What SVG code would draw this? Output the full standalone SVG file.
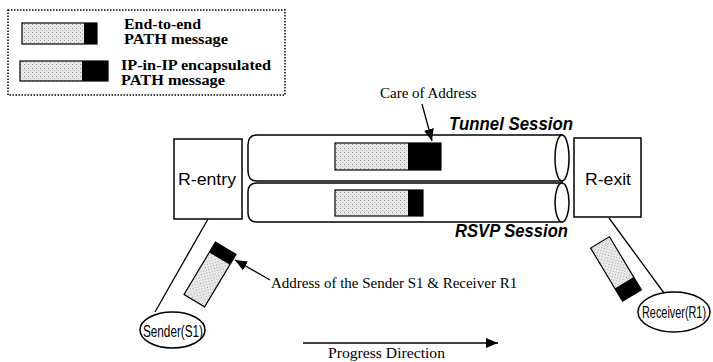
<svg xmlns="http://www.w3.org/2000/svg" width="713" height="362" viewBox="0 0 713 362">
<style>
.ln{stroke:#000;stroke-width:1.3;fill:none}
.box{fill:#fff;stroke:#000;stroke-width:1.5}
.grey{fill:url(#dith);stroke:#000;stroke-width:1.2}
.blk{fill:#000}
.leg{font-family:"Liberation Serif",serif;font-weight:bold;font-size:15px;fill:#000}
.ser{font-family:"Liberation Serif",serif;font-size:15px;fill:#000}
.sans{font-family:"Liberation Sans",Arial,sans-serif;font-size:16px;fill:#000}
.ses{font-family:"Liberation Sans",Arial,sans-serif;font-size:18px;font-weight:bold;font-style:italic;fill:#000}
</style>
<defs>
<pattern id="dith" width="4" height="4" patternUnits="userSpaceOnUse">
<rect width="4" height="4" fill="#e9e9e9"/>
<rect x="0" y="0" width="1" height="1" fill="#9a9a9a"/>
<rect x="2" y="2" width="1" height="1" fill="#b0b0b0"/>
</pattern>
<marker id="ah" viewBox="0 0 12 10" refX="12" refY="5" markerWidth="12" markerHeight="10" markerUnits="userSpaceOnUse" orient="auto">
<path d="M0,0 L12,5 L0,10 Z" fill="#000"/>
</marker>
</defs>
<rect width="713" height="362" fill="#fff"/>

<g id="legend">
<rect x="8" y="10" width="277" height="85" fill="none" stroke="#000" stroke-width="1.5" stroke-dasharray="1.5 1.5"/>
<rect x="22" y="23" width="75" height="21" class="grey"/>
<rect x="84" y="23" width="13" height="21" class="blk"/>
<rect x="20" y="61" width="88" height="20" class="grey"/>
<rect x="82" y="61" width="26" height="20" class="blk"/>
<text class="leg" x="124" y="29" textLength="77" lengthAdjust="spacingAndGlyphs">End-to-end</text>
<text class="leg" x="124" y="44" textLength="104" lengthAdjust="spacingAndGlyphs">PATH message</text>
<text class="leg" x="121" y="70" textLength="150" lengthAdjust="spacingAndGlyphs">IP-in-IP encapsulated</text>
<text class="leg" x="121" y="85" textLength="104" lengthAdjust="spacingAndGlyphs">PATH message</text>
</g>

<g id="tunnel-session">
<path class="box" d="M562,135 L257,135 Q248,135 248,145 L248,171 Q248,181 257,181 L562,181 Z"/>
<ellipse cx="562" cy="158" rx="7" ry="23" class="box"/>
<rect x="335" y="143" width="106" height="27" class="grey"/>
<rect x="408" y="143" width="33" height="27" class="blk"/>
<text class="ses" x="449" y="130" textLength="124" lengthAdjust="spacingAndGlyphs">Tunnel Session</text>
</g>

<g id="rsvp-session">
<path class="box" d="M562,183 L257,183 Q248,183 248,192 L248,213 Q248,222 257,222 L562,222 Z"/>
<ellipse cx="562" cy="202.5" rx="7" ry="19.5" class="box"/>
<rect x="335" y="190" width="88" height="26" class="grey"/>
<rect x="408" y="190" width="15" height="26" class="blk"/>
<text class="ses" x="455" y="237" textLength="113" lengthAdjust="spacingAndGlyphs">RSVP Session</text>
</g>

<g id="r-entry">
<rect x="174" y="139" width="68" height="80" class="box"/>
<text class="sans" x="178" y="185" textLength="58" lengthAdjust="spacingAndGlyphs">R-entry</text>
</g>

<g id="r-exit">
<rect x="574" y="138" width="67" height="79" class="box"/>
<text class="sans" x="585" y="185" textLength="46" lengthAdjust="spacingAndGlyphs">R-exit</text>
</g>

<g id="sender">
<ellipse cx="172.5" cy="330" rx="32.5" ry="18" class="box"/>
<text class="sans" x="143" y="337" textLength="60" lengthAdjust="spacingAndGlyphs">Sender(S1)</text>
</g>

<g id="receiver">
<ellipse cx="674" cy="312" rx="36" ry="20" class="box"/>
<text class="sans" transform="translate(642,318) scale(0.68,1)" x="0" y="0">Receiver(R1)</text>
</g>

<g id="msg-sender" transform="translate(210,274.5) rotate(31)">
<rect x="-12" y="-30.5" width="24" height="61" class="grey"/>
<rect x="-12" y="-30.5" width="24" height="12" class="blk"/>
</g>

<g id="msg-receiver" transform="translate(616,269) rotate(-31)">
<rect x="-11" y="-31" width="22" height="62" class="grey"/>
<rect x="-11" y="16" width="22" height="15" class="blk"/>
</g>

<g id="connectors">
<line class="ln" x1="208" y1="219" x2="155" y2="312"/>
<line class="ln" x1="609" y1="218" x2="664" y2="293"/>
<line class="ln" x1="422" y1="104" x2="432" y2="141" marker-end="url(#ah)"/>
<line class="ln" x1="270" y1="280" x2="235" y2="260" marker-end="url(#ah)"/>
<line class="ln" x1="303" y1="343" x2="498" y2="343" marker-end="url(#ah)"/>
</g>

<g id="labels">
<text class="ser" x="380" y="98">Care of Address</text>
<text class="ser" x="271" y="288">Address of the Sender S1 &amp; Receiver R1</text>
<text class="ser" x="328" y="358" textLength="117" lengthAdjust="spacingAndGlyphs">Progress Direction</text>
</g>
</svg>
